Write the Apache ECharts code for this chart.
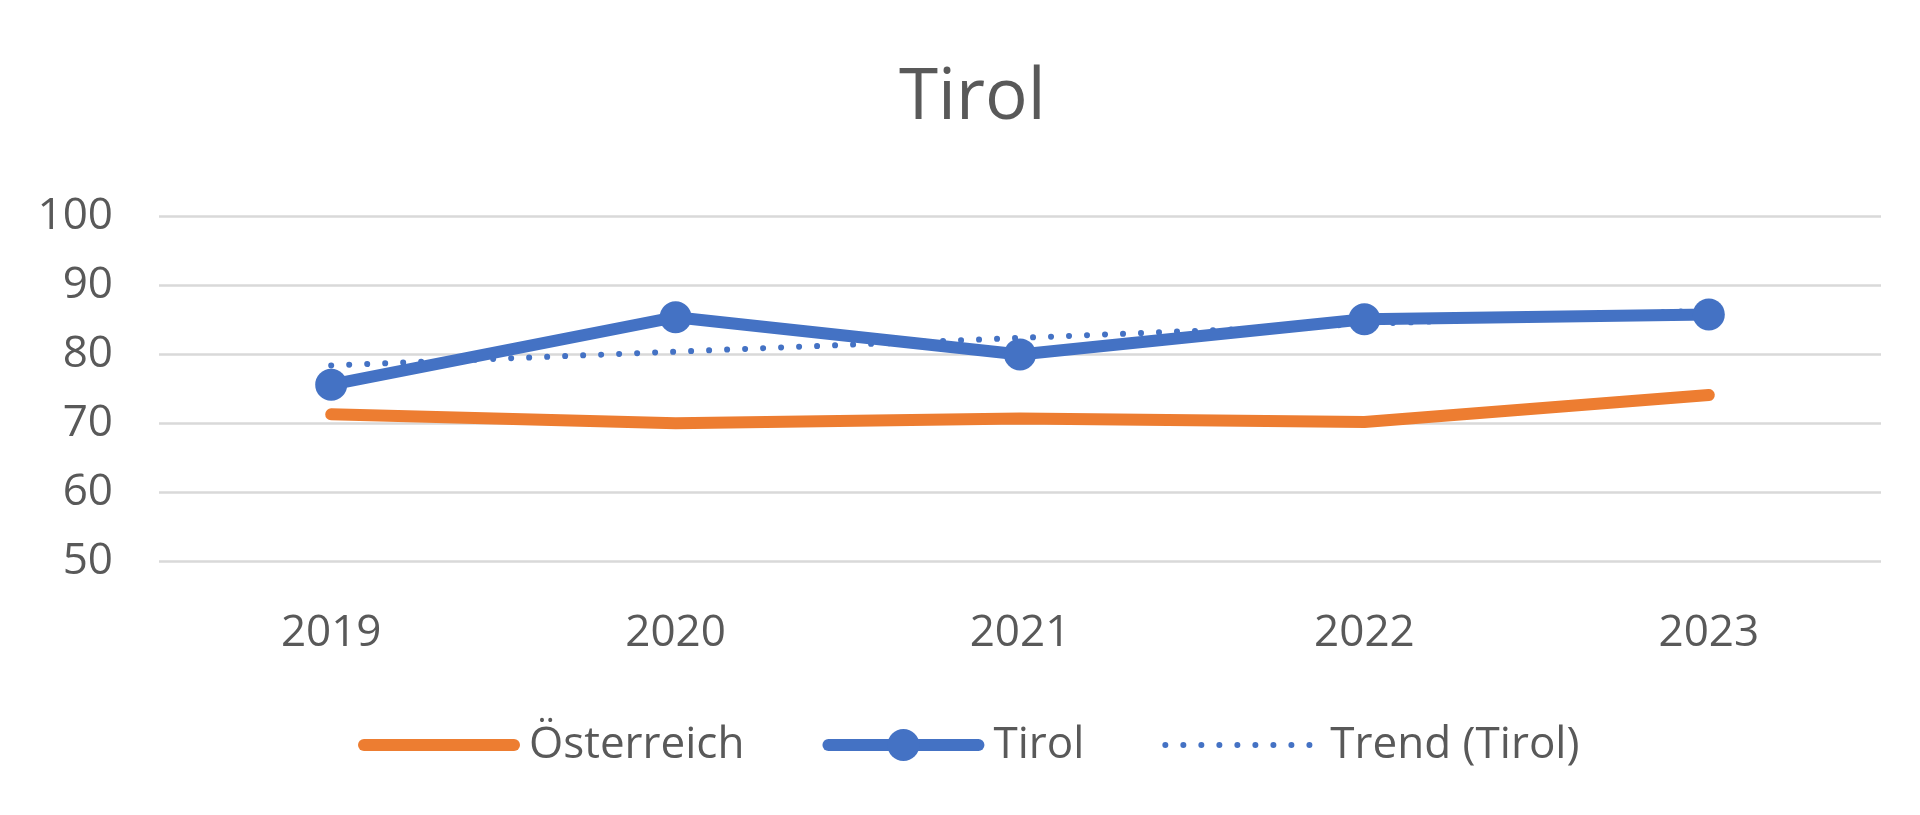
<!DOCTYPE html>
<html>
<head>
<meta charset="utf-8">
<script src="https://cdn.jsdelivr.net/npm/echarts@6/dist/echarts.min.js"></script>
<style>html,body{margin:0;padding:0;background:#fff}#c{width:1920px;height:815px}</style>
</head>
<body>
<div id="c"></div>
<script>
const categories = ['2019', '2020', '2021', '2022', '2023'];
const oesterreich = [71.3, 70.0, 70.7, 70.2, 74.1];
const tirol = [75.6, 85.4, 80.0, 85.1, 85.8];
const trendTirol = [78.4, 80.4, 82.4, 84.4, 86.4];
const yTicks = [50, 60, 70, 80, 90, 100];

const FONT = '"Open Sans", "Noto Sans", sans-serif';
const TXT = '#595959';
const ORANGE = '#ED7D31';
const BLUE = '#4472C4';

const chart = echarts.init(document.getElementById('c'));
chart.setOption({
  animation: false,
  backgroundColor: '#ffffff',
  title: {
    text: 'Tirol',
    left: 894,
    top: 58,
    textStyle: { fontFamily: FONT, fontSize: 71, fontWeight: 'normal', color: TXT }
  },
  grid: { left: 159, right: 39, top: 216.7, bottom: 254 },
  legend: {
    left: 353,
    top: 718,
    itemWidth: 150,
    itemHeight: 40,
    itemGap: 78,
    textStyle: { fontFamily: FONT, fontSize: 44, color: TXT, padding: [0, 0, 0, 10] },
    data: [
      { name: 'Österreich', itemStyle: { opacity: 0 }, lineStyle: { width: 12, color: ORANGE, cap: 'round' } },
      { name: 'Tirol', lineStyle: { width: 12, color: BLUE, cap: 'round' } },
      { name: 'Trend (Tirol)', itemStyle: { opacity: 0 }, lineStyle: { width: 6, color: BLUE, type: [0.01, 18], cap: 'round' } }
    ]
  },
  xAxis: {
    type: 'category',
    data: categories,
    boundaryGap: true,
    axisLine: { show: false },
    axisTick: { show: false },
    axisLabel: { margin: 50, fontFamily: FONT, fontSize: 44, color: TXT }
  },
  yAxis: {
    type: 'value',
    min: yTicks[0],
    max: yTicks[yTicks.length - 1],
    interval: 10,
    axisLine: { show: false },
    axisTick: { show: false },
    axisLabel: { margin: 46, fontFamily: FONT, fontSize: 44, color: TXT },
    splitLine: { lineStyle: { color: '#D9D9D9', width: 2.5 } }
  },
  series: [
    {
      name: 'Österreich',
      type: 'line',
      data: oesterreich,
      symbol: 'none',
      lineStyle: { color: ORANGE, width: 12, cap: 'round', join: 'round' },
      itemStyle: { color: ORANGE },
      z: 2
    },
    {
      name: 'Trend (Tirol)',
      type: 'line',
      data: trendTirol,
      symbol: 'none',
      lineStyle: { color: BLUE, width: 6, type: [0.01, 18], cap: 'round' },
      itemStyle: { color: BLUE },
      z: 3
    },
    {
      name: 'Tirol',
      type: 'line',
      data: tirol,
      symbol: 'circle',
      symbolSize: 32,
      lineStyle: { color: BLUE, width: 12, cap: 'round', join: 'round' },
      itemStyle: { color: BLUE },
      z: 4
    }
  ]
});
</script>
</body>
</html>
